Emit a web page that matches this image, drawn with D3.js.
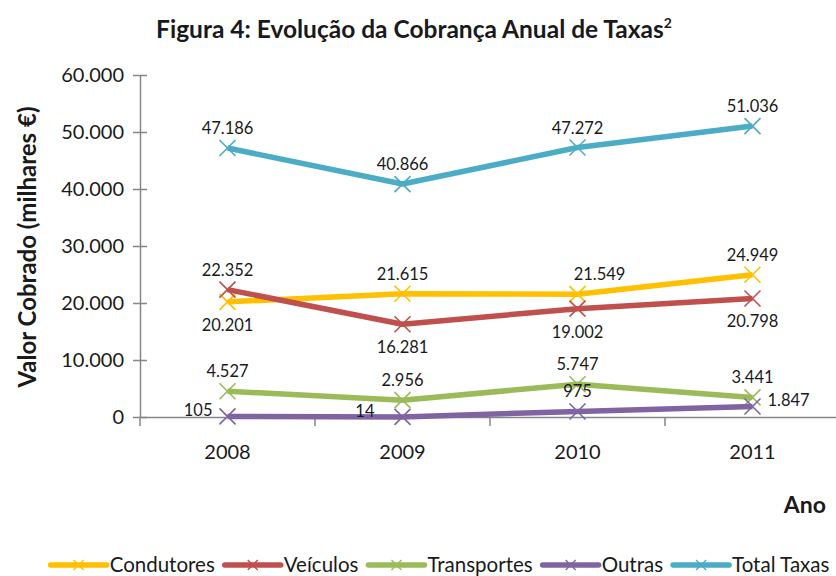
<!DOCTYPE html>
<html>
<head>
<meta charset="utf-8">
<script src="https://cdn.jsdelivr.net/npm/d3@7"></script>
<style>
  body { margin: 0; background: #fff; }
  svg { display: block; font-family: Lato, "Open Sans", sans-serif; }
</style>
</head>
<body>
<svg id="chart" width="836" height="576"></svg>
<script>
// chart data
var years = ['2008', '2009', '2010', '2011'];
var condutores = [20201, 21615, 21549, 24949];
var veiculos = [22352, 16281, 19002, 20798];
var transportes = [4527, 2956, 5747, 3441];
var outras = [105, 14, 975, 1847];
var totalTaxas = [47186, 40866, 47272, 51036];
var yTicks = [0, 10000, 20000, 30000, 40000, 50000, 60000];

// where each data label sits relative to its point
var condutoresLbl = ['below', 'above', 'aboveRight', 'above'];
var veiculosLbl = ['above', 'below', 'below', 'below'];
var transportesLbl = ['above', 'above', 'above', 'above'];
var outrasLbl = ['left', 'farLeft', 'above', 'right'];
var totalLbl = ['above', 'above', 'above', 'above'];

var series = [
    { name: 'Condutores', values: condutores, color: '#FFC000', lbl: condutoresLbl },
    { name: 'Veículos', values: veiculos, color: '#C0504D', lbl: veiculosLbl },
    { name: 'Transportes', values: transportes, color: '#9BBB59', lbl: transportesLbl },
    { name: 'Outras', values: outras, color: '#8064A2', lbl: outrasLbl },
    { name: 'Total Taxas', values: totalTaxas, color: '#4BACC6', lbl: totalLbl }
];

var pt = d3.formatLocale({ decimal: ',', thousands: '.', grouping: [3], currency: ['', ' €'] });
var fmt = pt.format(',d');

var svg = d3.select('#chart');
var axisColor = '#868686';

var x = d3.scaleBand().domain(years).range([140, 840]);
var y = d3.scaleLinear().domain([0, 60000]).range([417, 75]);
var cx = function (d, i) { return x(years[i]) + x.bandwidth() / 2; };

// title
var title = svg.append('text')
    .attr('x', 414).attr('y', 38)
    .attr('text-anchor', 'middle')
    .attr('font-size', 24.5).attr('font-weight', 'bold')
    .attr('fill', '#1a1a1a');
title.append('tspan').text('Figura 4: Evolução da Cobrança Anual de Taxas');
title.append('tspan').attr('dy', -10).attr('font-size', 14).text('2');

// y axis
var yAxis = svg.append('g')
    .attr('transform', 'translate(140,0)')
    .call(d3.axisLeft(y).tickValues(yTicks).tickFormat(fmt).tickSizeInner(7).tickSizeOuter(0).tickPadding(6));
yAxis.selectAll('.tick line').attr('x2', 7).attr('x1', -7);
yAxis.selectAll('.tick text').attr('font-size', 20).attr('fill', '#1a1a1a').attr('font-family', 'Lato, sans-serif').attr('dx', -3);

// x axis
var xAxis = svg.append('g')
    .attr('transform', 'translate(0,' + y(0) + ')')
    .call(d3.axisBottom(x).tickSize(0).tickPadding(28));
xAxis.selectAll('.tick text').attr('font-size', 20).attr('fill', '#1a1a1a').attr('font-family', 'Lato, sans-serif');
xAxis.selectAll('.tick line').remove();
// band boundaries as ticks
xAxis.selectAll('.bound')
    .data(years.concat(['end']))
    .enter().append('line')
    .attr('x1', function (d, i) { return 140 + i * x.bandwidth(); })
    .attr('x2', function (d, i) { return 140 + i * x.bandwidth(); })
    .attr('y1', 0).attr('y2', 9)
    .attr('stroke', axisColor).attr('stroke-width', 1.5);
svg.selectAll('.domain').attr('stroke', axisColor).attr('stroke-width', 1.5);
svg.selectAll('.tick line').attr('stroke', axisColor).attr('stroke-width', 1.5);

// axis titles
svg.append('text')
    .attr('transform', 'translate(36,247) rotate(-90)')
    .attr('text-anchor', 'middle')
    .attr('font-size', 24).attr('font-weight', 'bold').attr('fill', '#1a1a1a')
    .text('Valor Cobrado (milhares €)');
svg.append('text')
    .attr('x', 826).attr('y', 513)
    .attr('text-anchor', 'end')
    .attr('font-size', 23).attr('font-weight', 'bold').attr('fill', '#1a1a1a')
    .text('Ano');

function xMarker(g, color, size, sw) {
    g.append('path')
        .attr('d', 'M' + (-size) + ',' + (-size) + 'L' + size + ',' + size +
                   'M' + (-size) + ',' + size + 'L' + size + ',' + (-size))
        .attr('stroke', color).attr('stroke-width', sw).attr('fill', 'none');
}

var line = d3.line()
    .x(cx)
    .y(function (d) { return y(d); });

series.forEach(function (s) {
    svg.append('path')
        .datum(s.values)
        .attr('d', line)
        .attr('fill', 'none')
        .attr('stroke', s.color)
        .attr('stroke-width', 5.5)
        .attr('stroke-linejoin', 'round');

    svg.selectAll(null)
        .data(s.values)
        .enter().append('g')
        .attr('transform', function (d, i) { return 'translate(' + cx(d, i) + ',' + y(d) + ')'; })
        .each(function () { xMarker(d3.select(this), s.color, 8, 1.6); });
});

// data labels
series.forEach(function (s) {
    svg.selectAll(null)
        .data(s.values)
        .enter().append('text')
        .attr('font-size', 16.5).attr('fill', '#1a1a1a')
        .attr('text-anchor', function (d, i) {
            var p = s.lbl[i];
            return (p === 'left' || p === 'farLeft') ? 'end' : (p === 'right' ? 'start' : 'middle');
        })
        .attr('x', function (d, i) {
            var p = s.lbl[i], px = cx(d, i);
            if (p === 'left') return px - 15;
            if (p === 'farLeft') return px - 28;
            if (p === 'right') return px + 15;
            if (p === 'aboveRight') return px + 22;
            return px;
        })
        .attr('y', function (d, i) {
            var p = s.lbl[i], py = y(d);
            if (p === 'below') return py + 29;
            if (p === 'left' || p === 'farLeft' || p === 'right') return py;
            return py - 14;
        })
        .text(fmt);
});

// legend
var legend = svg.append('g').attr('transform', 'translate(0,565)');
var lx = 0;
series.forEach(function (s, i) {
    var item = legend.append('g').attr('transform', 'translate(' + lx + ',0)');
    item.append('line')
        .attr('x1', 0).attr('x2', 56)
        .attr('stroke', s.color).attr('stroke-width', 5.5).attr('stroke-linecap', 'round');
    var m = item.append('g').attr('transform', 'translate(28,0)');
    xMarker(m, s.color, 5, 1.4);
    var t = item.append('text')
        .attr('x', 59).attr('y', 7)
        .attr('font-size', 20.5).attr('fill', '#1a1a1a')
        .text(s.name);
    lx += 59 + t.node().getComputedTextLength() + 10;
});
var lw = lx - 10;
legend.attr('transform', 'translate(' + (440 - lw / 2) + ',565)');
</script>
</body>
</html>
